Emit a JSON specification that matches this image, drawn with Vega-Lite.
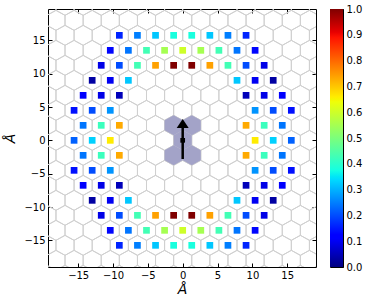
{
"$schema":"https://vega.github.io/schema/vega-lite/v6.json",
"padding":{"left":3,"top":3,"right":0,"bottom":0},
"spacing":12,
"config":{
 "view":{"stroke":"#000","strokeWidth":1},
 "axis":{"domain":false,"grid":false,"tickColor":"#000","tickSize":-4,"tickWidth":1,"labelFont":"DejaVu Sans","labelFontSize":10,"labelColor":"#000","labelPadding":7,"titleFont":"DejaVu Sans","titleFontSize":14,"titleFontStyle":"italic","titleFontWeight":"normal","titleColor":"#000"}
},
"datasets":{
"grid":[
{"x":-18.186,"y":-18},{"x":-15.588,"y":-18},{"x":-12.99,"y":-18},{"x":-10.392,"y":-18},{"x":-7.794,"y":-18},{"x":-5.196,"y":-18},{"x":-2.598,"y":-18},{"x":0,"y":-18},{"x":2.598,"y":-18},{"x":5.196,"y":-18},{"x":7.794,"y":-18},{"x":10.392,"y":-18},{"x":12.99,"y":-18},{"x":15.588,"y":-18},{"x":18.186,"y":-18},
{"x":-18.186,"y":-13.5},{"x":-15.588,"y":-13.5},{"x":-12.99,"y":-13.5},{"x":-10.392,"y":-13.5},{"x":-7.794,"y":-13.5},{"x":-5.196,"y":-13.5},{"x":-2.598,"y":-13.5},{"x":0,"y":-13.5},{"x":2.598,"y":-13.5},{"x":5.196,"y":-13.5},{"x":7.794,"y":-13.5},{"x":10.392,"y":-13.5},{"x":12.99,"y":-13.5},{"x":15.588,"y":-13.5},{"x":18.186,"y":-13.5},
{"x":-18.186,"y":-9},{"x":-15.588,"y":-9},{"x":-12.99,"y":-9},{"x":-10.392,"y":-9},{"x":-7.794,"y":-9},{"x":-5.196,"y":-9},{"x":-2.598,"y":-9},{"x":0,"y":-9},{"x":2.598,"y":-9},{"x":5.196,"y":-9},{"x":7.794,"y":-9},{"x":10.392,"y":-9},{"x":12.99,"y":-9},{"x":15.588,"y":-9},{"x":18.186,"y":-9},
{"x":-18.186,"y":-4.5},{"x":-15.588,"y":-4.5},{"x":-12.99,"y":-4.5},{"x":-10.392,"y":-4.5},{"x":-7.794,"y":-4.5},{"x":-5.196,"y":-4.5},{"x":-2.598,"y":-4.5},{"x":0,"y":-4.5},{"x":2.598,"y":-4.5},{"x":5.196,"y":-4.5},{"x":7.794,"y":-4.5},{"x":10.392,"y":-4.5},{"x":12.99,"y":-4.5},{"x":15.588,"y":-4.5},{"x":18.186,"y":-4.5},
{"x":-18.186,"y":0},{"x":-15.588,"y":0},{"x":-12.99,"y":0},{"x":-10.392,"y":0},{"x":-7.794,"y":0},{"x":-5.196,"y":0},{"x":-2.598,"y":0},{"x":0,"y":0},{"x":2.598,"y":0},{"x":5.196,"y":0},{"x":7.794,"y":0},{"x":10.392,"y":0},{"x":12.99,"y":0},{"x":15.588,"y":0},{"x":18.186,"y":0},
{"x":-18.186,"y":4.5},{"x":-15.588,"y":4.5},{"x":-12.99,"y":4.5},{"x":-10.392,"y":4.5},{"x":-7.794,"y":4.5},{"x":-5.196,"y":4.5},{"x":-2.598,"y":4.5},{"x":0,"y":4.5},{"x":2.598,"y":4.5},{"x":5.196,"y":4.5},{"x":7.794,"y":4.5},{"x":10.392,"y":4.5},{"x":12.99,"y":4.5},{"x":15.588,"y":4.5},{"x":18.186,"y":4.5},
{"x":-18.186,"y":9},{"x":-15.588,"y":9},{"x":-12.99,"y":9},{"x":-10.392,"y":9},{"x":-7.794,"y":9},{"x":-5.196,"y":9},{"x":-2.598,"y":9},{"x":0,"y":9},{"x":2.598,"y":9},{"x":5.196,"y":9},{"x":7.794,"y":9},{"x":10.392,"y":9},{"x":12.99,"y":9},{"x":15.588,"y":9},{"x":18.186,"y":9},
{"x":-18.186,"y":13.5},{"x":-15.588,"y":13.5},{"x":-12.99,"y":13.5},{"x":-10.392,"y":13.5},{"x":-7.794,"y":13.5},{"x":-5.196,"y":13.5},{"x":-2.598,"y":13.5},{"x":0,"y":13.5},{"x":2.598,"y":13.5},{"x":5.196,"y":13.5},{"x":7.794,"y":13.5},{"x":10.392,"y":13.5},{"x":12.99,"y":13.5},{"x":15.588,"y":13.5},{"x":18.186,"y":13.5},
{"x":-18.186,"y":18},{"x":-15.588,"y":18},{"x":-12.99,"y":18},{"x":-10.392,"y":18},{"x":-7.794,"y":18},{"x":-5.196,"y":18},{"x":-2.598,"y":18},{"x":0,"y":18},{"x":2.598,"y":18},{"x":5.196,"y":18},{"x":7.794,"y":18},{"x":10.392,"y":18},{"x":12.99,"y":18},{"x":15.588,"y":18},{"x":18.186,"y":18},
{"x":-19.485,"y":-20.25},{"x":-16.887,"y":-20.25},{"x":-14.289,"y":-20.25},{"x":-11.691,"y":-20.25},{"x":-9.093,"y":-20.25},{"x":-6.495,"y":-20.25},{"x":-3.897,"y":-20.25},{"x":-1.299,"y":-20.25},{"x":1.299,"y":-20.25},{"x":3.897,"y":-20.25},{"x":6.495,"y":-20.25},{"x":9.093,"y":-20.25},{"x":11.691,"y":-20.25},{"x":14.289,"y":-20.25},{"x":16.887,"y":-20.25},{"x":19.485,"y":-20.25},
{"x":-19.485,"y":-15.75},{"x":-16.887,"y":-15.75},{"x":-14.289,"y":-15.75},{"x":-11.691,"y":-15.75},{"x":-9.093,"y":-15.75},{"x":-6.495,"y":-15.75},{"x":-3.897,"y":-15.75},{"x":-1.299,"y":-15.75},{"x":1.299,"y":-15.75},{"x":3.897,"y":-15.75},{"x":6.495,"y":-15.75},{"x":9.093,"y":-15.75},{"x":11.691,"y":-15.75},{"x":14.289,"y":-15.75},{"x":16.887,"y":-15.75},{"x":19.485,"y":-15.75},
{"x":-19.485,"y":-11.25},{"x":-16.887,"y":-11.25},{"x":-14.289,"y":-11.25},{"x":-11.691,"y":-11.25},{"x":-9.093,"y":-11.25},{"x":-6.495,"y":-11.25},{"x":-3.897,"y":-11.25},{"x":-1.299,"y":-11.25},{"x":1.299,"y":-11.25},{"x":3.897,"y":-11.25},{"x":6.495,"y":-11.25},{"x":9.093,"y":-11.25},{"x":11.691,"y":-11.25},{"x":14.289,"y":-11.25},{"x":16.887,"y":-11.25},{"x":19.485,"y":-11.25},
{"x":-19.485,"y":-6.75},{"x":-16.887,"y":-6.75},{"x":-14.289,"y":-6.75},{"x":-11.691,"y":-6.75},{"x":-9.093,"y":-6.75},{"x":-6.495,"y":-6.75},{"x":-3.897,"y":-6.75},{"x":-1.299,"y":-6.75},{"x":1.299,"y":-6.75},{"x":3.897,"y":-6.75},{"x":6.495,"y":-6.75},{"x":9.093,"y":-6.75},{"x":11.691,"y":-6.75},{"x":14.289,"y":-6.75},{"x":16.887,"y":-6.75},{"x":19.485,"y":-6.75},
{"x":-19.485,"y":-2.25},{"x":-16.887,"y":-2.25},{"x":-14.289,"y":-2.25},{"x":-11.691,"y":-2.25},{"x":-9.093,"y":-2.25},{"x":-6.495,"y":-2.25},{"x":-3.897,"y":-2.25},{"x":-1.299,"y":-2.25},{"x":1.299,"y":-2.25},{"x":3.897,"y":-2.25},{"x":6.495,"y":-2.25},{"x":9.093,"y":-2.25},{"x":11.691,"y":-2.25},{"x":14.289,"y":-2.25},{"x":16.887,"y":-2.25},{"x":19.485,"y":-2.25},
{"x":-19.485,"y":2.25},{"x":-16.887,"y":2.25},{"x":-14.289,"y":2.25},{"x":-11.691,"y":2.25},{"x":-9.093,"y":2.25},{"x":-6.495,"y":2.25},{"x":-3.897,"y":2.25},{"x":-1.299,"y":2.25},{"x":1.299,"y":2.25},{"x":3.897,"y":2.25},{"x":6.495,"y":2.25},{"x":9.093,"y":2.25},{"x":11.691,"y":2.25},{"x":14.289,"y":2.25},{"x":16.887,"y":2.25},{"x":19.485,"y":2.25},
{"x":-19.485,"y":6.75},{"x":-16.887,"y":6.75},{"x":-14.289,"y":6.75},{"x":-11.691,"y":6.75},{"x":-9.093,"y":6.75},{"x":-6.495,"y":6.75},{"x":-3.897,"y":6.75},{"x":-1.299,"y":6.75},{"x":1.299,"y":6.75},{"x":3.897,"y":6.75},{"x":6.495,"y":6.75},{"x":9.093,"y":6.75},{"x":11.691,"y":6.75},{"x":14.289,"y":6.75},{"x":16.887,"y":6.75},{"x":19.485,"y":6.75},
{"x":-19.485,"y":11.25},{"x":-16.887,"y":11.25},{"x":-14.289,"y":11.25},{"x":-11.691,"y":11.25},{"x":-9.093,"y":11.25},{"x":-6.495,"y":11.25},{"x":-3.897,"y":11.25},{"x":-1.299,"y":11.25},{"x":1.299,"y":11.25},{"x":3.897,"y":11.25},{"x":6.495,"y":11.25},{"x":9.093,"y":11.25},{"x":11.691,"y":11.25},{"x":14.289,"y":11.25},{"x":16.887,"y":11.25},{"x":19.485,"y":11.25},
{"x":-19.485,"y":15.75},{"x":-16.887,"y":15.75},{"x":-14.289,"y":15.75},{"x":-11.691,"y":15.75},{"x":-9.093,"y":15.75},{"x":-6.495,"y":15.75},{"x":-3.897,"y":15.75},{"x":-1.299,"y":15.75},{"x":1.299,"y":15.75},{"x":3.897,"y":15.75},{"x":6.495,"y":15.75},{"x":9.093,"y":15.75},{"x":11.691,"y":15.75},{"x":14.289,"y":15.75},{"x":16.887,"y":15.75},{"x":19.485,"y":15.75},
{"x":-19.485,"y":20.25},{"x":-16.887,"y":20.25},{"x":-14.289,"y":20.25},{"x":-11.691,"y":20.25},{"x":-9.093,"y":20.25},{"x":-6.495,"y":20.25},{"x":-3.897,"y":20.25},{"x":-1.299,"y":20.25},{"x":1.299,"y":20.25},{"x":3.897,"y":20.25},{"x":6.495,"y":20.25},{"x":9.093,"y":20.25},{"x":11.691,"y":20.25},{"x":14.289,"y":20.25},{"x":16.887,"y":20.25},{"x":19.485,"y":20.25}
],
"shade":[{"x":0,"y":0},{"x":-1.299,"y":2.25},{"x":1.299,"y":2.25},{"x":-1.299,"y":-2.25},{"x":1.299,"y":-2.25}],
"arrow":[{"x":0,"y":-2.8,"y2":2.0}],
"head":[{"x":0,"y":2.52}],
"origin":[{"x":0,"y":0}],
"bar":[{"lo":0,"hi":1}],
"m":[
{"x":-15.588,"y":0,"v":0.22},{"x":-12.99,"y":0,"v":0.33},{"x":-10.392,"y":0,"v":0.66},{"x":10.392,"y":0,"v":0.66},{"x":12.99,"y":0,"v":0.33},{"x":15.588,"y":0,"v":0.22},
{"x":-14.289,"y":2.25,"v":0.24},{"x":-11.691,"y":2.25,"v":0.42},{"x":-9.093,"y":2.25,"v":0.73},{"x":9.093,"y":2.25,"v":0.73},{"x":11.691,"y":2.25,"v":0.42},{"x":14.289,"y":2.25,"v":0.24},
{"x":-14.289,"y":-2.25,"v":0.24},{"x":-11.691,"y":-2.25,"v":0.42},{"x":-9.093,"y":-2.25,"v":0.73},{"x":9.093,"y":-2.25,"v":0.73},{"x":11.691,"y":-2.25,"v":0.42},{"x":14.289,"y":-2.25,"v":0.24},
{"x":-15.588,"y":4.5,"v":0.14},{"x":-12.99,"y":4.5,"v":0.2},{"x":-10.392,"y":4.5,"v":0.27},{"x":10.392,"y":4.5,"v":0.27},{"x":12.99,"y":4.5,"v":0.2},{"x":15.588,"y":4.5,"v":0.14},
{"x":-15.588,"y":-4.5,"v":0.14},{"x":-12.99,"y":-4.5,"v":0.2},{"x":-10.392,"y":-4.5,"v":0.27},{"x":10.392,"y":-4.5,"v":0.27},{"x":12.99,"y":-4.5,"v":0.2},{"x":15.588,"y":-4.5,"v":0.14},
{"x":-14.289,"y":6.75,"v":0.12},{"x":-11.691,"y":6.75,"v":0.09},{"x":-9.093,"y":6.75,"v":0.05},{"x":9.093,"y":6.75,"v":0.05},{"x":11.691,"y":6.75,"v":0.09},{"x":14.289,"y":6.75,"v":0.12},
{"x":-14.289,"y":-6.75,"v":0.12},{"x":-11.691,"y":-6.75,"v":0.09},{"x":-9.093,"y":-6.75,"v":0.05},{"x":9.093,"y":-6.75,"v":0.05},{"x":11.691,"y":-6.75,"v":0.09},{"x":14.289,"y":-6.75,"v":0.12},
{"x":-12.99,"y":9,"v":0.03},{"x":-10.392,"y":9,"v":0.1},{"x":-7.794,"y":9,"v":0.32},{"x":7.794,"y":9,"v":0.32},{"x":10.392,"y":9,"v":0.1},{"x":12.99,"y":9,"v":0.03},
{"x":-12.99,"y":-9,"v":0.03},{"x":-10.392,"y":-9,"v":0.1},{"x":-7.794,"y":-9,"v":0.32},{"x":7.794,"y":-9,"v":0.32},{"x":10.392,"y":-9,"v":0.1},{"x":12.99,"y":-9,"v":0.03},
{"x":-11.691,"y":11.25,"v":0.09},{"x":-9.093,"y":11.25,"v":0.2},{"x":-6.495,"y":11.25,"v":0.43},{"x":-3.897,"y":11.25,"v":0.74},{"x":-1.299,"y":11.25,"v":1.0},{"x":1.299,"y":11.25,"v":1.0},{"x":3.897,"y":11.25,"v":0.74},{"x":6.495,"y":11.25,"v":0.43},{"x":9.093,"y":11.25,"v":0.2},{"x":11.691,"y":11.25,"v":0.09},
{"x":-11.691,"y":-11.25,"v":0.09},{"x":-9.093,"y":-11.25,"v":0.2},{"x":-6.495,"y":-11.25,"v":0.43},{"x":-3.897,"y":-11.25,"v":0.74},{"x":-1.299,"y":-11.25,"v":1.0},{"x":1.299,"y":-11.25,"v":1.0},{"x":3.897,"y":-11.25,"v":0.74},{"x":6.495,"y":-11.25,"v":0.43},{"x":9.093,"y":-11.25,"v":0.2},{"x":11.691,"y":-11.25,"v":0.09},
{"x":-10.392,"y":13.5,"v":0.13},{"x":-7.794,"y":13.5,"v":0.24},{"x":-5.196,"y":13.5,"v":0.43},{"x":-2.598,"y":13.5,"v":0.55},{"x":0,"y":13.5,"v":0.6},{"x":2.598,"y":13.5,"v":0.55},{"x":5.196,"y":13.5,"v":0.43},{"x":7.794,"y":13.5,"v":0.24},{"x":10.392,"y":13.5,"v":0.13},
{"x":-10.392,"y":-13.5,"v":0.13},{"x":-7.794,"y":-13.5,"v":0.24},{"x":-5.196,"y":-13.5,"v":0.43},{"x":-2.598,"y":-13.5,"v":0.55},{"x":0,"y":-13.5,"v":0.6},{"x":2.598,"y":-13.5,"v":0.55},{"x":5.196,"y":-13.5,"v":0.43},{"x":7.794,"y":-13.5,"v":0.24},{"x":10.392,"y":-13.5,"v":0.13},
{"x":-9.093,"y":15.75,"v":0.16},{"x":-6.495,"y":15.75,"v":0.25},{"x":-3.897,"y":15.75,"v":0.32},{"x":-1.299,"y":15.75,"v":0.38},{"x":1.299,"y":15.75,"v":0.38},{"x":3.897,"y":15.75,"v":0.32},{"x":6.495,"y":15.75,"v":0.25},{"x":9.093,"y":15.75,"v":0.16},
{"x":-9.093,"y":-15.75,"v":0.16},{"x":-6.495,"y":-15.75,"v":0.25},{"x":-3.897,"y":-15.75,"v":0.32},{"x":-1.299,"y":-15.75,"v":0.38},{"x":1.299,"y":-15.75,"v":0.38},{"x":3.897,"y":-15.75,"v":0.32},{"x":6.495,"y":-15.75,"v":0.25},{"x":9.093,"y":-15.75,"v":0.16}
]
},
"hconcat":[
{"width":268,"height":258,
 "layer":[
 {"data":{"name":"grid"},
  "mark":{"type":"point","clip":true,"shape":"M0,-1L0.905,-0.5L0.905,0.5L0,1L-0.905,0.5L-0.905,-0.5Z","size":400,"filled":false,"stroke":"#d0d0d0","strokeWidth":1,"opacity":1},
  "encoding":{
   "x":{"field":"x","type":"quantitative","scale":{"domain":[-19.33,19.13],"nice":false,"zero":false},"axis":{"orient":"top","labels":false,"title":null,"values":[-15,-10,-5,0,5,10,15]}},
   "y":{"field":"y","type":"quantitative","scale":{"domain":[-19.0,19.7],"nice":false,"zero":false},"axis":{"orient":"right","labels":false,"title":null,"values":[-15,-10,-5,0,5,10,15]}}
  }},
 {"data":{"name":"shade"},
  "mark":{"type":"point","clip":true,"shape":"M0,-1L0.905,-0.5L0.905,0.5L0,1L-0.905,0.5L-0.905,-0.5Z","size":400,"filled":true,"fill":"#a3a3c8","strokeWidth":0,"opacity":1},
  "encoding":{
   "x":{"field":"x","type":"quantitative","scale":{"domain":[-19.33,19.13],"nice":false,"zero":false},"axis":null},
   "y":{"field":"y","type":"quantitative","scale":{"domain":[-19.0,19.7],"nice":false,"zero":false},"axis":null}
  }},
 {"data":{"name":"arrow"},
  "mark":{"type":"rule","color":"#000","strokeWidth":2.5},
  "encoding":{
   "x":{"field":"x","type":"quantitative","scale":{"domain":[-19.33,19.13],"nice":false,"zero":false},"axis":null},
   "y":{"field":"y","type":"quantitative","scale":{"domain":[-19.0,19.7],"nice":false,"zero":false},"axis":null},
   "y2":{"field":"y2"}
  }},
 {"data":{"name":"head"},
  "mark":{"type":"point","shape":"M0,-0.75L1,0.75L-1,0.75Z","size":144,"filled":true,"fill":"#000","strokeWidth":0,"opacity":1},
  "encoding":{
   "x":{"field":"x","type":"quantitative","scale":{"domain":[-19.33,19.13],"nice":false,"zero":false},"axis":null},
   "y":{"field":"y","type":"quantitative","scale":{"domain":[-19.0,19.7],"nice":false,"zero":false},"axis":null}
  }},
 {"data":{"name":"origin"},
  "mark":{"type":"square","size":22,"color":"#000","opacity":1},
  "encoding":{
   "x":{"field":"x","type":"quantitative","scale":{"domain":[-19.33,19.13],"nice":false,"zero":false},"axis":null},
   "y":{"field":"y","type":"quantitative","scale":{"domain":[-19.0,19.7],"nice":false,"zero":false},"axis":null}
  }},
 {"data":{"name":"m"},
  "mark":{"type":"square","size":45,"opacity":1},
  "encoding":{
   "x":{"field":"x","type":"quantitative","scale":{"domain":[-19.33,19.13],"nice":false,"zero":false},"axis":{"orient":"bottom","values":[-15,-10,-5,0,5,10,15],"title":"Å","titlePadding":2}},
   "y":{"field":"y","type":"quantitative","scale":{"domain":[-19.0,19.7],"nice":false,"zero":false},"axis":{"orient":"left","values":[-15,-10,-5,0,5,10,15],"title":"Å","titlePadding":6}},
   "color":{"field":"v","type":"quantitative",
    "scale":{"type":"linear","domain":[0,0.11,0.125,0.34,0.35,0.375,0.64,0.65,0.66,0.89,0.91,1],"range":["#000080","#0000ff","#0000ff","#00dbff","#00e6f7","#15ffe2","#efff08","#f7f500","#ffec00","#ff1300","#e80000","#800000"],"interpolate":"rgb"},
    "legend":null}
  }}
 ],
 "resolve":{"axis":{"x":"independent","y":"independent"}}
},
{"width":13,"height":258,
 "data":{"name":"bar"},
 "mark":{"type":"rect","fill":{"gradient":"linear","x1":0,"y1":1,"x2":0,"y2":0,"stops":[{"offset":0,"color":"#000080"},{"offset":0.11,"color":"#0000ff"},{"offset":0.125,"color":"#0000ff"},{"offset":0.34,"color":"#00dbff"},{"offset":0.35,"color":"#00e6f7"},{"offset":0.375,"color":"#15ffe2"},{"offset":0.64,"color":"#efff08"},{"offset":0.65,"color":"#f7f500"},{"offset":0.66,"color":"#ffec00"},{"offset":0.89,"color":"#ff1300"},{"offset":0.91,"color":"#e80000"},{"offset":1,"color":"#800000"}]},"strokeWidth":0},
 "encoding":{
  "y":{"field":"lo","type":"quantitative","scale":{"domain":[0,1],"nice":false,"zero":false},"axis":{"orient":"right","values":[0,0.1,0.2,0.3,0.4,0.5,0.6,0.7,0.8,0.9,1],"format":".1f","title":null,"labelPadding":7}},
  "y2":{"field":"hi"}
 }}
]
}
